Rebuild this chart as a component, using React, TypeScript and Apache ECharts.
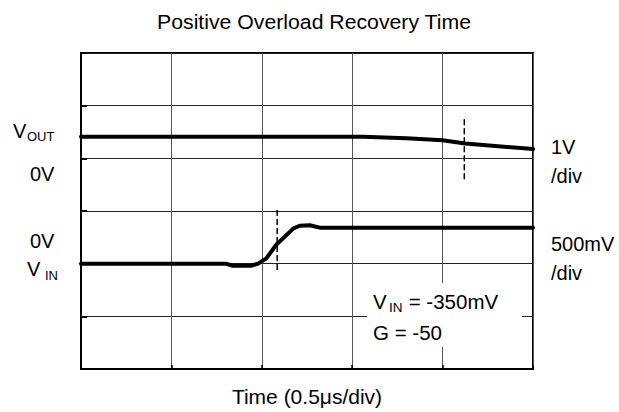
import React, { useEffect, useRef } from "react";
import * as echarts from "echarts";

const chartTitle = "Positive Overload Recovery Time";
const xAxisName = "Time (0.5μs/div)";
// time in divisions (0..5), vertical position in divisions (0..6)
const voutTrace: number[][] = [
  [0, 4.41], [3.12, 4.41], [3.6, 4.38], [4.0, 4.345], [4.25, 4.28], [5, 4.176],
];
const vinTrace: number[][] = [
  [0, 2.0], [1.6, 2.0], [1.68, 1.96], [1.88, 1.96], [1.96, 2.0], [2.05, 2.1],
  [2.16, 2.36], [2.35, 2.67], [2.42, 2.72], [2.53, 2.73], [2.64, 2.684], [5, 2.684],
];
const markerA: number[][] = [[2.17, 1.89], [2.17, 3.07]];
const markerB: number[][] = [[4.24, 3.61], [4.24, 4.79]];
const leftLabels = ["0V", "0V"];
const rightLabels = ["1V", "/div", "500mV", "/div"];
const noteLine1 = " = -350mV";
const noteLine2 = "G = -50";

const FONT = "'Liberation Sans', Arial, sans-serif";

function txt(x: number, y: number, text: string, size: number, align = "left", scaleX = 1) {
  return {
    type: "text",
    z: 110,
    x, y, scaleX,
    style: {
      x: 0, y: 0, text,
      fill: "#000",
      font: `${size}px ${FONT}`,
      align, verticalAlign: "middle",
      textAlign: align, textVerticalAlign: "middle",
    },
  };
}

export default function App() {
  const ref = useRef<HTMLDivElement>(null);
  useEffect(() => {
    if (!ref.current) return;
    const chart = echarts.init(ref.current, null, { renderer: "svg" });
    const lineSeries = (data: number[][], width: number, type: any = "solid") => ({
      type: "line",
      data,
      symbol: "none",
      smooth: false,
      z: 5,
      lineStyle: { color: "#000", width, type, cap: "round", join: "round" },
    });
    chart.setOption({
      animation: false,
      backgroundColor: "#fff",
      grid: { left: 81, top: 53, width: 452, height: 319, show: true, borderColor: "#000", borderWidth: 2, backgroundColor: "transparent" },
      xAxis: {
        type: "value", min: 0, max: 5, interval: 1,
        name: xAxisName, nameLocation: "middle", nameGap: 17,
        nameTextStyle: { fontSize: 21, color: "#000", fontFamily: FONT, verticalAlign: "top" },
        axisLabel: { show: false },
        axisLine: { show: true, lineStyle: { color: "#000", width: 2 } },
        axisTick: { show: true, inside: true, length: 4, lineStyle: { color: "#000", width: 1.5 } },
        splitLine: { show: true, lineStyle: { color: "#555", width: 1 } },
      },
      yAxis: {
        type: "value", min: 0, max: 6, interval: 1,
        axisLabel: { show: false },
        axisLine: { show: true, lineStyle: { color: "#000", width: 2 } },
        axisTick: { show: true, inside: true, length: 6, lineStyle: { color: "#000", width: 2 } },
        splitLine: { show: true, lineStyle: { color: "#222", width: 1 } },
      },
      series: [
        lineSeries(voutTrace, 4),
        lineSeries(vinTrace, 4),
        lineSeries(markerA, 1.5, [5, 4]),
        lineSeries(markerB, 1.5, [5, 4]),
      ],
      graphic: [
        { type: "rect", z: 100, shape: { x: 367, y: 283, width: 155, height: 64 }, style: { fill: "#fff" } },
        txt(314, 22, chartTitle, 19.5, "center", 1.09),
        // left labels
        txt(13, 131, "V", 20),
        txt(27, 136, "OUT", 13),
        txt(30, 174, leftLabels[0], 20),
        txt(30, 240.5, leftLabels[1], 20),
        txt(27, 269, "V", 20),
        txt(45, 275, "IN", 13),
        // right labels
        txt(551, 146.7, rightLabels[0], 20),
        txt(551, 176, rightLabels[1], 20),
        txt(551, 244, rightLabels[2], 20),
        txt(551, 272.5, rightLabels[3], 20),
        // note box
        txt(373, 301, "V", 20.5),
        txt(389, 307, "IN", 13.5),
        txt(403, 301, noteLine1, 20.5),
        txt(373, 332, noteLine2, 20.5),
      ],
    });
    return () => chart.dispose();
  }, []);
  return <div ref={ref} style={{ position: "fixed", left: 0, top: 0, width: 619, height: 412 }} />;
}
